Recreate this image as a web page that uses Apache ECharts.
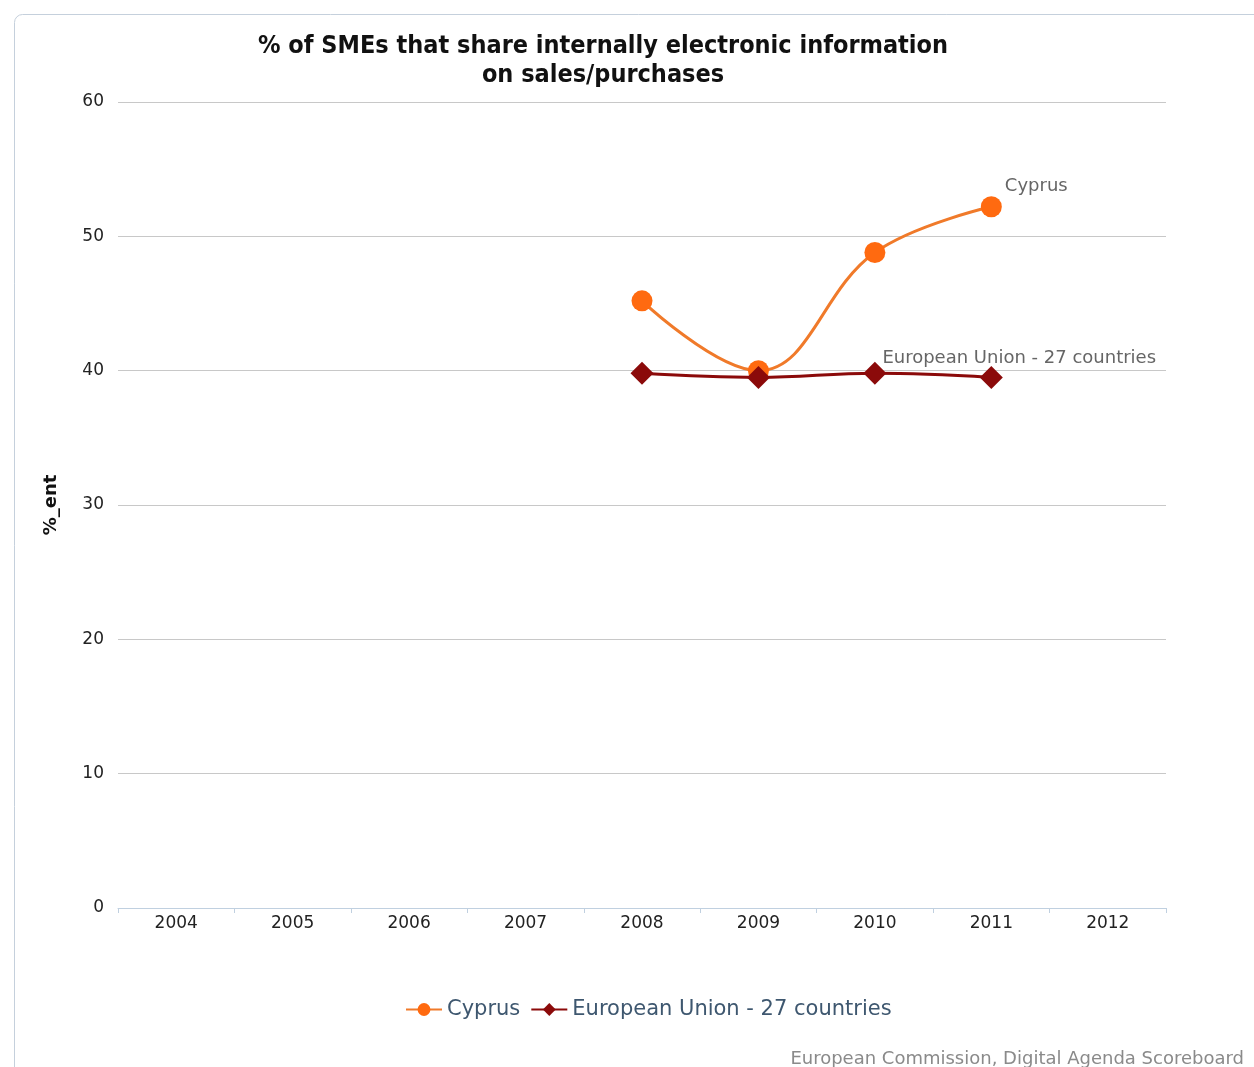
<!DOCTYPE html>
<html><head><meta charset="utf-8">
<script src="https://cdn.jsdelivr.net/npm/echarts@6/dist/echarts.min.js"></script>
<style>html,body{margin:0;padding:0;background:#fff}#c{width:1254px;height:1067px}</style>
</head><body><div id="c"></div>
<script>
const years = ['2004','2005','2006','2007','2008','2009','2010','2011','2012'];
const cyprus = [null,null,null,null,45.2,40.0,48.8,52.2,null];
const eu27 = [null,null,null,null,39.8,39.5,39.8,39.5,null];
const yTicks = [0,10,20,30,40,50,60];
const titleText = '% of SMEs that share internally electronic information\non sales/purchases';
const seriesNames = ['Cyprus','European Union - 27 countries'];
const creditText = 'European Commission, Digital Agenda Scoreboard';

const chart = echarts.init(document.getElementById('c'), null, {renderer:'canvas'});
const font = 'DejaVu Sans';

function withLabel(arr, idx, label) {
  return arr.map((v,i)=> i===idx ? {value:v, label:label} : v);
}

const option = {
  animation:false,
  backgroundColor:'#fff',
  graphic:[
    {type:'rect', left:12, top:12, shape:{width:1260, height:1070, r:8}, style:{fill:'none', stroke:'#c5d0dc', lineWidth:1}, z:-1},
    {type:'text', right:10, top:1050, style:{text:creditText, font:'18px "DejaVu Sans"', fill:'#8a8a8a'}}
  ],
  title:{
    text:titleText, left:598, textAlign:'center', top:27,
    textStyle:{fontFamily:'DejaVu Sans Condensed', fontWeight:'bold', fontSize:25, color:'#111', lineHeight:29}
  },
  legend:{
    bottom:42, left:400, itemGap:10, itemWidth:36, itemHeight:16,
    textStyle:{fontFamily:font, fontSize:21, color:'#3e576f'},
    data:seriesNames
  },
  grid:{left:118, right:88, top:102, bottom:159},
  xAxis:{
    type:'category', data:years, boundaryGap:true,
    axisLine:{lineStyle:{color:'#c0d0e0'}},
    axisTick:{show:true, length:5, lineStyle:{color:'#c0d0e0'}},
    axisLabel:{fontFamily:font, fontSize:17, color:'#222', margin:7}
  },
  yAxis:{
    type:'value', min:yTicks[0], max:yTicks[yTicks.length-1], interval:10,
    name:'%_ent', nameLocation:'middle', nameGap:58, nameRotate:90,
    nameTextStyle:{fontFamily:font, fontWeight:'bold', fontSize:18, color:'#111'},
    axisLine:{show:false}, axisTick:{show:false},
    axisLabel:{fontFamily:font, fontSize:17, color:'#222', margin:14},
    splitLine:{lineStyle:{color:'#c8c8c8'}}
  },
  series:[
    {
      name:seriesNames[0], type:'line', smooth:0.4, connectNulls:false,
      symbol:'circle', symbolSize:21,
      itemStyle:{color:'#ff6a10'}, lineStyle:{color:'#f07a2a', width:3},
      data:withLabel(cyprus, 7, {show:true, formatter:seriesNames[0], position:'right', offset:[-2,-20], fontFamily:font, fontSize:18, color:'#666'}),
      z:2
    },
    {
      name:seriesNames[1], type:'line', smooth:0.4,
      symbol:'diamond', symbolSize:23,
      itemStyle:{color:'#8b0a0a'}, lineStyle:{color:'#8b0a0a', width:3},
      data:withLabel(eu27, 6, {show:true, formatter:seriesNames[1], position:'right', offset:[-9,-15], fontFamily:font, fontSize:18, color:'#666'}),
      z:3
    }
  ]
};
chart.setOption(option);
</script></body></html>
